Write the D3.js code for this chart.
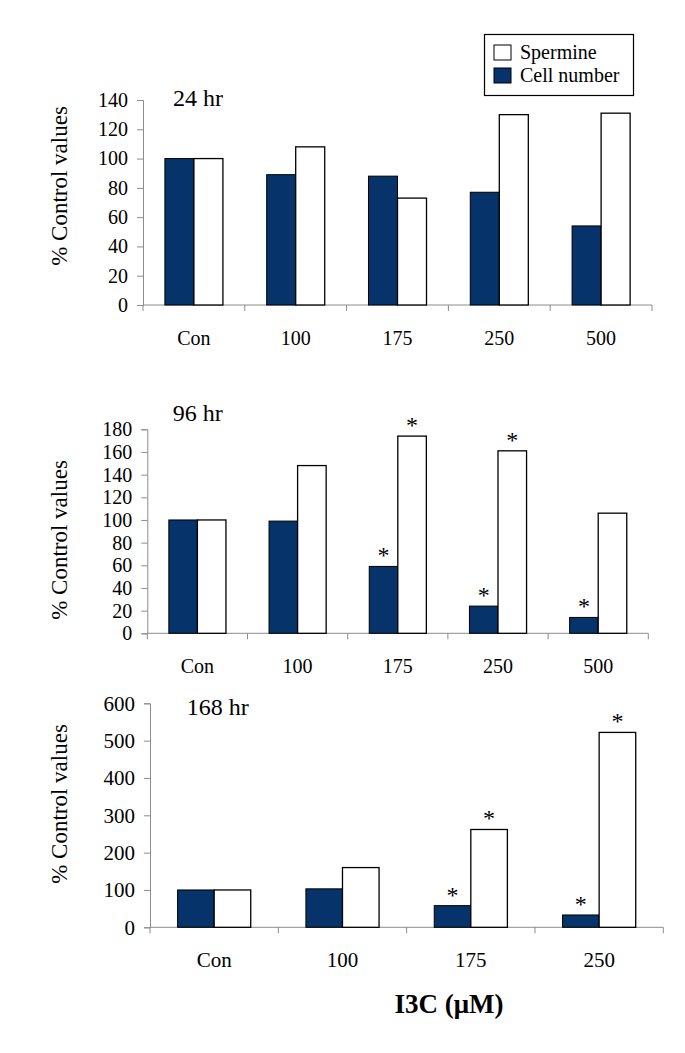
<!DOCTYPE html>
<html>
<head>
<meta charset="utf-8">
<script src="https://cdn.jsdelivr.net/npm/d3@7"></script>
<style>
  html, body { margin: 0; padding: 0; background: #fff; }
  svg { display: block; }
  text { font-family: "Liberation Serif", "Times New Roman", serif; fill: #000; }
</style>
</head>
<body>
<svg id="chart" width="685" height="1053"></svg>
<script>
// ---------- DATA ----------
const categories5 = ["Con", "100", "175", "250", "500"];
const categories4 = ["Con", "100", "175", "250"];

const cells24 = [100, 89, 88, 77, 54];
const spermine24 = [100, 108, 73, 130, 131];

const cells96 = [100, 99, 59, 24, 14];
const spermine96 = [100, 148, 174, 161, 106];
const sigCells96 = [false, false, true, true, true];
const sigSpermine96 = [false, false, true, true, false];

const cells168 = [100, 103, 58, 33];
const spermine168 = [100, 160, 262, 522];
const sigCells168 = [false, false, true, true];
const sigSpermine168 = [false, false, true, true];

const ticks24 = [0, 20, 40, 60, 80, 100, 120, 140];
const ticks96 = [0, 20, 40, 60, 80, 100, 120, 140, 160, 180];
const ticks168 = [0, 100, 200, 300, 400, 500, 600];

const seriesNames = ["Spermine", "Cell number"];
const titles = ["24 hr", "96 hr", "168 hr"];
const yAxisLabel = "% Control values";
const xAxisLabel = "I3C (\u03BCM)";

// ---------- STYLE ----------
const navy = "#06336a";
const axisGray = "#8c8c8c";
const serif = "'Liberation Serif', 'Times New Roman', serif";

const svg = d3.select("#chart");

const panels = [
  { cats: categories5, cells: cells24, sperm: spermine24, sigC: null, sigS: null, ticks: ticks24, title: titles[0],
    x0: 143, x1: 652, yTop: 100, yBot: 305, titleX: 173, titleY: 106, yLabelY: 186, tickFont: 20 },
  { cats: categories5, cells: cells96, sperm: spermine96, sigC: sigCells96, sigS: sigSpermine96, ticks: ticks96, title: titles[1],
    x0: 147.3, x1: 648.3, yTop: 429.3, yBot: 633.3, titleX: 172.7, titleY: 420.5, yLabelY: 540, tickFont: 20 },
  { cats: categories4, cells: cells168, sperm: spermine168, sigC: sigCells168, sigS: sigSpermine168, ticks: ticks168, title: titles[2],
    x0: 150, x1: 663.3, yTop: 703.3, yBot: 927.3, titleX: 186.7, titleY: 715, yLabelY: 804, tickFont: 21 }
];

panels.forEach(p => {
  const g = svg.append("g");
  const yMax = p.ticks[p.ticks.length - 1];
  const y = d3.scaleLinear().domain([0, yMax]).range([p.yBot, p.yTop]);
  const x = d3.scaleBand().domain(p.cats).range([p.x0, p.x1]).paddingInner(0.43).paddingOuter(0.215);
  const xs = d3.scaleBand().domain(["cells", "sperm"]).range([0, x.bandwidth()]);

  // y axis
  const yAxis = d3.axisLeft(y).tickValues(p.ticks).tickSize(6).tickPadding(9).tickFormat(d3.format("d"));
  const ya = g.append("g").attr("transform", `translate(${p.x0},0)`).call(yAxis);
  ya.attr("font-family", null);
  ya.select(".domain").attr("stroke", axisGray).attr("stroke-width", 1);
  ya.selectAll(".tick line").attr("stroke", axisGray);
  ya.selectAll(".tick text").style("font-family", serif)
    .style("font-size", p.tickFont + "px").attr("fill", "#000");

  // x axis (line + ticks at band boundaries)
  const step = x.step();
  g.append("line").attr("x1", p.x0).attr("x2", p.x1).attr("y1", y(0)).attr("y2", y(0))
    .attr("stroke", axisGray).attr("stroke-width", 1);
  d3.range(p.cats.length + 1).forEach(i => {
    const xx = p.x0 + i * step;
    g.append("line").attr("x1", xx).attr("x2", xx).attr("y1", y(0)).attr("y2", y(0) + 6)
      .attr("stroke", axisGray).attr("stroke-width", 1);
  });
  g.selectAll(".xlab").data(p.cats).enter().append("text")
    .attr("x", d => x(d) + x.bandwidth() / 2)
    .attr("y", y(0) + 40)
    .attr("text-anchor", "middle")
    .style("font-family", serif)
    .style("font-size", p.tickFont + "px")
    .text(d => d);

  // bars
  const rows = p.cats.map((c, i) => ({ c, i, cells: p.cells[i], sperm: p.sperm[i] }));
  g.selectAll(".barC").data(rows).enter().append("rect")
    .attr("x", d => x(d.c) + xs("cells"))
    .attr("width", xs.bandwidth())
    .attr("y", d => y(d.cells))
    .attr("height", d => y(0) - y(d.cells))
    .attr("fill", navy).attr("stroke", "#000").attr("stroke-width", 1);
  g.selectAll(".barS").data(rows).enter().append("rect")
    .attr("x", d => x(d.c) + xs("sperm"))
    .attr("width", xs.bandwidth())
    .attr("y", d => y(d.sperm))
    .attr("height", d => y(0) - y(d.sperm))
    .attr("fill", "#fff").attr("stroke", "#000").attr("stroke-width", 1.3);

  // significance asterisks
  if (p.sigC) {
    rows.forEach(d => {
      if (p.sigC[d.i]) g.append("text").attr("x", x(d.c) + xs("cells") + xs.bandwidth() / 2)
        .attr("y", y(d.cells) - 3).attr("text-anchor", "middle")
        .style("font-family", serif).style("font-size", "24px").text("*");
      if (p.sigS[d.i]) g.append("text").attr("x", x(d.c) + xs("sperm") + xs.bandwidth() / 2)
        .attr("y", y(d.sperm) - 3).attr("text-anchor", "middle")
        .style("font-family", serif).style("font-size", "24px").text("*");
    });
  }

  // title
  g.append("text").attr("x", p.titleX).attr("y", p.titleY)
    .style("font-family", serif).style("font-size", "24px").text(p.title);

  // y label
  g.append("text")
    .attr("transform", `translate(67,${p.yLabelY}) rotate(-90)`)
    .attr("text-anchor", "middle")
    .style("font-family", serif)
    .style("font-size", "23px")
    .text(yAxisLabel);
});

// legend
const lg = svg.append("g");
lg.append("rect").attr("x", 484.5).attr("y", 34.5).attr("width", 149).attr("height", 61)
  .attr("fill", "#fff").attr("stroke", "#000").attr("stroke-width", 1.2);
const legendFills = ["#fff", navy];
seriesNames.forEach((s, i) => {
  lg.append("rect").attr("x", 494).attr("y", 45 + i * 23).attr("width", 17).attr("height", 15)
    .attr("fill", legendFills[i]).attr("stroke", "#000").attr("stroke-width", 1);
  lg.append("text").attr("x", 520).attr("y", 59 + i * 23)
    .style("font-family", serif).style("font-size", "20px").text(s);
});

// x axis title
svg.append("text").attr("x", 449).attr("y", 1013).attr("text-anchor", "middle")
  .style("font-family", serif)
  .style("font-size", "27px").style("font-weight", "bold").text(xAxisLabel);
</script>
</body>
</html>
